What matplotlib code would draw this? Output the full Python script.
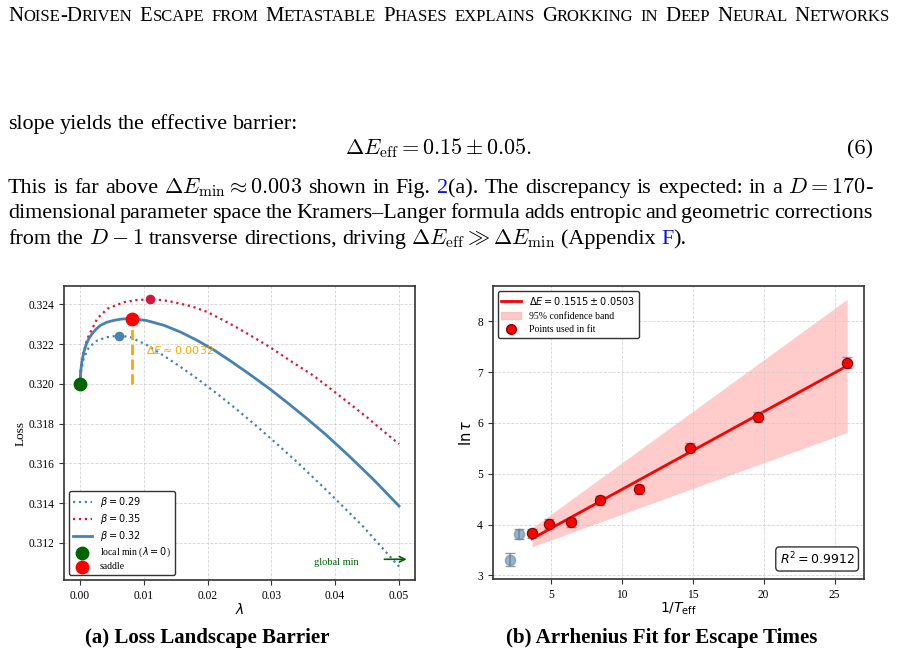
import matplotlib
matplotlib.use("Agg")
import matplotlib.pyplot as plt
from matplotlib.lines import Line2D
from matplotlib.patches import Patch
import numpy as np

plt.rcParams["font.family"] = "serif"
plt.rcParams["font.serif"] = ["Liberation Serif", "DejaVu Serif"]
plt.rcParams["mathtext.fontset"] = "dejavusans"

# ---- data (a): loss along the path for three beta values ----
lam_029 = [0, 0.0001, 0.0006, 0.0014, 0.0027, 0.0043, 0.0061, 0.0079, 0.0105, 0.0132,
           0.0160, 0.0184, 0.0215, 0.0245, 0.0275, 0.0300, 0.0340, 0.0392, 0.0444, 0.0500]
loss_029 = [0.3200, 0.32050, 0.32130, 0.32184, 0.32218, 0.32235, 0.32243, 0.32235, 0.32195, 0.32140,
            0.32080, 0.32025, 0.31950, 0.31873, 0.31792, 0.31722, 0.31607, 0.31447, 0.31281, 0.31080]

lam_035 = [0, 0.0001, 0.00036, 0.00115, 0.0027, 0.0043, 0.0069, 0.0090, 0.0110, 0.0130, 0.0147,
           0.0175, 0.0200, 0.0240, 0.0270, 0.0298, 0.0330, 0.0366, 0.0400, 0.0423, 0.0450, 0.0481, 0.0500]
loss_035 = [0.3200, 0.32070, 0.32134, 0.32227, 0.32328, 0.32378, 0.32411, 0.32422, 0.32425, 0.32421, 0.32411,
            0.32390, 0.32361, 0.32294, 0.32238, 0.32184, 0.32115, 0.32041, 0.31957, 0.31899, 0.31831, 0.31747, 0.31697]

lam_032 = [0, 0.0001, 0.0003, 0.0006, 0.0010, 0.0014, 0.0019, 0.0025, 0.0032, 0.0042, 0.0053, 0.0065, 0.0082,
           0.0105, 0.0132, 0.0158, 0.0184, 0.0210, 0.0235, 0.0265, 0.0298, 0.0325, 0.0353, 0.0385,
           0.0420, 0.0460, 0.0500]
loss_032 = [0.3200, 0.32058, 0.32110, 0.32159, 0.32200, 0.32228, 0.32252, 0.32274, 0.32294, 0.32310, 0.32319, 0.32326, 0.32328,
            0.32318, 0.32294, 0.32260, 0.32218, 0.32170, 0.32117, 0.32050, 0.31973, 0.31905, 0.31832, 0.31745,
            0.31642, 0.31518, 0.31385]

peak_029 = (0.0061, 0.32243)
peak_035 = (0.0110, 0.32425)
local_min = (0.0, 0.3200)
saddle = (0.0082, 0.32328)
barrier_text = r"$\Delta E \approx 0.0032$"

# ---- data (b): Arrhenius fit ----
inv_T_excl = [2.08, 2.76]
ln_tau_excl = [3.31, 3.82]
err_excl = [0.12, 0.10]
inv_T_fit = [3.66, 4.84, 6.39, 8.46, 11.19, 14.79, 19.59, 25.89]
ln_tau_fit = [3.83, 4.01, 4.04, 4.48, 4.69, 5.51, 6.12, 7.18]
err_fit = [0.09, 0.10, 0.09, 0.09, 0.09, 0.09, 0.10, 0.11]
fit_x = [3.66, 25.89]
fit_y = [3.72, 7.12]
band_lo = [3.56, 5.81]
band_hi = [3.93, 8.43]
fit_label = r"$\Delta E = 0.1515 \pm 0.0503$"
r2_label = r"$R^2 = 0.9912$"

W, H = 899, 657
fig = plt.figure(figsize=(W / 100, H / 100), dpi=100)
rend = fig.canvas.get_renderer()

BODY = dict(family="Liberation Serif", math_fontfamily="cm")


def measure(s, **kw):
    t = fig.text(0, 0, s, **kw)
    w = t.get_window_extent(renderer=rend).width
    t.remove()
    return w


def put(x, y, s, **kw):
    fig.text(x / W, 1 - y / H, s, ha="left", va="baseline", **kw)


def place_words(y, words, x0, fs, x1=None, draw=True, **kw):
    widths = [[measure(t, fontsize=f, **kw) for t, c, f in w] for w in words]
    total = sum(sum(ws) for ws in widths)
    if x1 is None:
        gap = measure("a a", fontsize=fs, **kw) - measure("aa", fontsize=fs, **kw)
    else:
        gap = (x1 - x0 - total) / (len(words) - 1)
    if draw:
        x = x0
        for w, ws in zip(words, widths):
            for (t, c, f), wd in zip(w, ws):
                put(x, y, t, color=c, fontsize=f, **kw)
                x += wd
            x += gap
    return total + gap * (len(words) - 1)


def words_of(text, fs, color="black"):
    return [[(w, color, fs)] for w in text.split(" ")]


# ---- running header in small caps ----
header = "Noise-Driven Escape from Metastable Phases explains Grokking in Deep Neural Networks"


def smallcaps_words(text, fs):
    out = []
    for word in text.split(" "):
        runs, cur, cur_small = [], "", None
        for ch in word:
            small = ch.islower()
            if cur_small is not None and small != cur_small:
                runs.append((cur, "black", fs * 0.8 if cur_small else fs))
                cur = ""
            cur += ch.upper()
            cur_small = small
        runs.append((cur, "black", fs * 0.8 if cur_small else fs))
        out.append(runs)
    return out


hw = sum(sum(measure(t, fontsize=f, **BODY) for t, c, f in w) for w in smallcaps_words(header, 12))
hfs = 12 * (882 - 10 * 7) / hw
place_words(21, smallcaps_words(header, hfs), 8, hfs, x1=890, **BODY)

# ---- body text ----
LINK = "#1010ee"
line3 = [[("from", "black", 1)], [("the", "black", 1)], [(r"$D-1$", "black", 1)],
         [("transverse", "black", 1)], [("directions,", "black", 1)], [("driving", "black", 1)],
         [(r"$\Delta E_{\mathrm{eff}} \gg \Delta E_{\mathrm{min}}$", "black", 1)],
         [("(Appendix", "black", 1)], [("F", LINK, 1), (").", "black", 1)]]
n3 = place_words(0, [[(t, c, 12) for t, c, f in w] for w in line3], 0, 12, draw=False, **BODY)
fs = 12 * 680 / n3


def sized(words):
    return [[(t, c, fs) for t, c, f in w] for w in words]


place_words(129, words_of("slope yields the effective barrier:", fs), 8, fs, **BODY)
fig.text(439 / W, 1 - 154 / H, r"$\Delta E_{\mathrm{eff}} = 0.15 \pm 0.05.$", ha="center",
         va="baseline", fontsize=fs, **BODY)
fig.text(873 / W, 1 - 154 / H, "(6)", ha="right", va="baseline", fontsize=fs, **BODY)

line1 = [[("This", "black", 1)], [("is", "black", 1)], [("far", "black", 1)], [("above", "black", 1)],
         [(r"$\Delta E_{\mathrm{min}} \approx 0.003$", "black", 1)], [("shown", "black", 1)],
         [("in", "black", 1)], [("Fig.", "black", 1)], [("2", LINK, 1), ("(a).", "black", 1)],
         [("The", "black", 1)], [("discrepancy", "black", 1)], [("is", "black", 1)],
         [("expected:", "black", 1)], [("in", "black", 1)], [("a", "black", 1)],
         [(r"$D = 170$", "black", 1), ("-", "black", 1)]]
place_words(193, sized(line1), 8, fs, x1=873, **BODY)
place_words(218, words_of("dimensional parameter space the Kramers\u2013Langer formula adds entropic and geometric corrections", fs),
            8, fs, x1=872, **BODY)
place_words(244, sized(line3), 8, fs, **BODY)

# ---- captions ----
fig.text(207 / W, 1 - 643 / H, "(a) Loss Landscape Barrier", ha="center", va="baseline",
         fontsize=fs * 0.95, fontweight="bold", family="Liberation Serif")
fig.text(662 / W, 1 - 643 / H, "(b) Arrhenius Fit for Escape Times", ha="center", va="baseline",
         fontsize=fs * 0.95, fontweight="bold", family="Liberation Serif")

# ---- panel (a) ----
ax1 = fig.add_axes([64 / W, 1 - 580 / H, (415 - 64) / W, (580 - 286) / H])
ax1.plot(lam_029, loss_029, ":", color="steelblue", lw=1.6, label=r"$\beta = 0.29$")
ax1.plot(lam_035, loss_035, ":", color="crimson", lw=1.6, label=r"$\beta = 0.35$")
ax1.plot(lam_032, loss_032, "-", color="steelblue", lw=2.0, label=r"$\beta = 0.32$")
ax1.scatter(*peak_029, s=35, color="steelblue", zorder=4)
ax1.scatter(*peak_035, s=35, color="crimson", zorder=4)
ax1.plot([saddle[0], saddle[0]], [local_min[1], saddle[1]], "--", color="orange", lw=2.0, zorder=3)
ax1.scatter(*local_min, s=80, color="darkgreen", zorder=5, label=r"local min ($\lambda = 0$)")
ax1.scatter(*saddle, s=80, color="red", zorder=5, label="saddle")
ax1.text(0.0103, 0.3217, barrier_text, color="orange", fontsize=8, va="center")
ax1.text(0.0401, 0.31099, "global min", color="darkgreen", fontsize=7.5, ha="center", va="center")
ax1.annotate("", xy=(0.0512, 0.31117), xytext=(0.0477, 0.31117),
             arrowprops=dict(arrowstyle="->", color="darkgreen", lw=1.2, shrinkA=0, shrinkB=0))
ax1.set_xticks([0, 0.01, 0.02, 0.03, 0.04, 0.05])
ax1.set_yticks([0.312, 0.314, 0.316, 0.318, 0.320, 0.322, 0.324])
ax1.set_xlabel(r"$\lambda$", fontsize=10, labelpad=0)
ax1.set_ylabel("Loss", fontsize=9.5, labelpad=1)
ax1.legend(loc="lower left", fontsize=7, edgecolor="#333333", framealpha=1, labelspacing=0.3)

# ---- panel (b) ----
ax2 = fig.add_axes([492.7 / W, 1 - 579 / H, (864 - 492.7) / W, (579 - 286) / H])
ax2.fill_between(fit_x, band_lo, band_hi, color="#ff9999", alpha=0.5, lw=0)
ax2.plot(fit_x, fit_y, color="red", lw=2.0)
ax2.errorbar(inv_T_excl, ln_tau_excl, yerr=err_excl, fmt="none", ecolor="gray", capsize=3.5,
             elinewidth=1.2, alpha=0.8)
ax2.errorbar(inv_T_fit, ln_tau_fit, yerr=err_fit, fmt="none", ecolor="gray", capsize=3.5,
             elinewidth=1.2, alpha=0.8)
ax2.scatter(inv_T_excl, ln_tau_excl, s=55, color="steelblue", alpha=0.6, edgecolor="gray", zorder=4)
ax2.scatter(inv_T_fit, ln_tau_fit, s=55, color="red", edgecolor="darkred", lw=0.8, zorder=4)
ax2.text(0.975, 0.04, r2_label, transform=ax2.transAxes, ha="right", va="bottom", fontsize=9,
         bbox=dict(boxstyle="round,pad=0.3", facecolor="white", edgecolor="#333333"))
ax2.set_yticks([3, 4, 5, 6, 7, 8])
ax2.set_xticks([5, 10, 15, 20, 25])
ax2.set_xlabel(r"$1/T_{\mathrm{eff}}$", fontsize=10, labelpad=0)
ax2.set_ylabel(r"$\ln \tau$", fontsize=10.5, labelpad=2)
ax2.legend([Line2D([], [], color="red", lw=2), Patch(color="#ff9999", alpha=0.5),
            Line2D([], [], ls="none", marker="o", ms=7, color="red", mec="darkred")],
           [fit_label, "95% confidence band", "Points used in fit"],
           loc="upper left", fontsize=7, edgecolor="#333333", framealpha=1)

for ax in (ax1, ax2):
    ax.grid(True, ls="--", color="#cccccc", lw=0.6, alpha=0.8)
    ax.tick_params(labelsize=8.3, color="#333333")
    for sp in ax.spines.values():
        sp.set_color("#333333")
        sp.set_linewidth(1.2)

fig.savefig("out.png", dpi=100)
